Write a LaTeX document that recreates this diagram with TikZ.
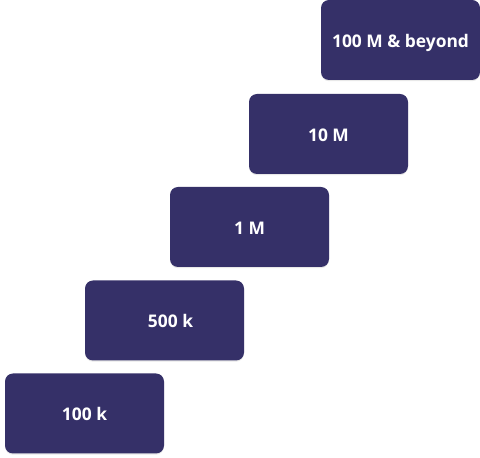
\documentclass[tikz,border=0pt]{standalone}
\usepackage{fontspec}
\setmainfont{Open Sans}
\usetikzlibrary{shadows}
\definecolor{boxfill}{RGB}{53,48,104}
\begin{document}
\begin{tikzpicture}[x=1pt,y=1pt,
  stepbox/.style={fill=boxfill, draw=none, rounded corners=8pt, minimum width=159pt, minimum height=80pt,
    inner sep=0pt, text=white, font=\fontsize{17.4}{19}\selectfont\bfseries,
    text height=14.6pt, text depth=0pt,
    drop shadow={opacity=0.18, shadow xshift=0pt, shadow yshift=-1.2pt}}]
\useasboundingbox (0,0) rectangle (480,458);
\node[stepbox] (a) at (400.5,418) {100 M \& beyond};
\node[stepbox] (b) at (328.5,324) {10 M};
\node[stepbox] (c) at (249.5,231) {1 M};
\node[stepbox] (d) at (164.5,137.5) {\hspace*{12pt}500 k};
\node[stepbox] (e) at (84.5,44.5) {100 k};
\end{tikzpicture}
\end{document}
